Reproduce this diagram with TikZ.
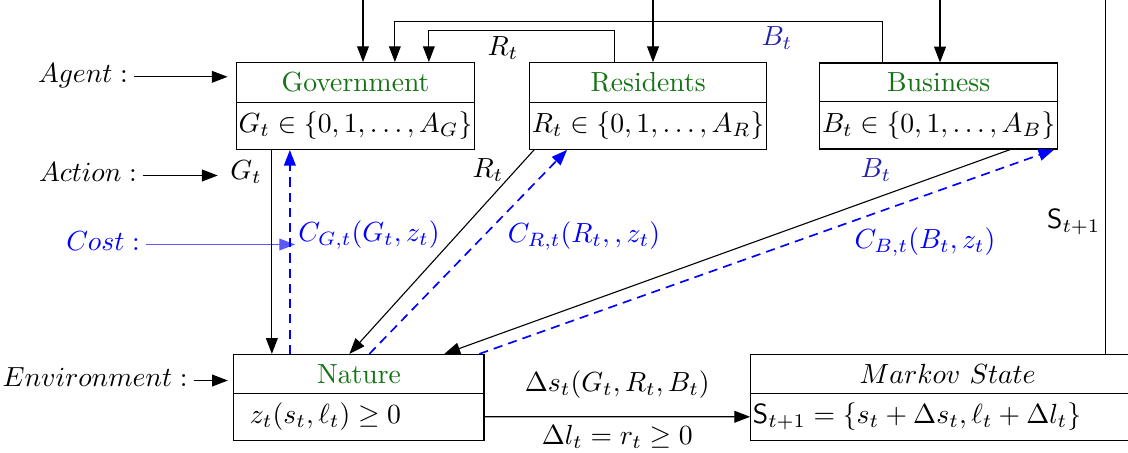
\documentclass[tikz,border=0pt]{standalone}
\usepackage{amsmath,amssymb}
\usepackage{xcolor}
\usetikzlibrary{arrows.meta, positioning, calc, shapes.multipart}
\definecolor{titlegreen}{RGB}{20,115,20}
\definecolor{darkblue}{RGB}{35,35,170}
\tikzset{
  agentbox/.style={draw, rectangle split, rectangle split parts=2, inner xsep=0.8pt, minimum width=85.7pt},
  envbox/.style={agentbox, rectangle split part align={center,left}},
  arrow/.style={-{Triangle[length=2mm, width=1.5mm]}},
  costflow/.style={-{Triangle[length=2mm, width=1.5mm]}, blue, dash pattern=on 3.3pt off 2.2pt, semithick},
  costlabel/.style={text=blue},
  sidelabel/.style={inner sep=2pt}
}
\begin{document}
\begin{tikzpicture}[x=0.3615pt, y=-0.3615pt]
    \path[use as bounding box, clip] (0,0) rectangle (1128,452);

    % agents
    \node[agentbox] (gov) at (355.5,106) {\textcolor{titlegreen}{Government}\nodepart{two}$G_t \in \{0,1,\ldots,A_G\}$};
    \node[agentbox, right=19.5pt of gov] (res) {\textcolor{titlegreen}{Residents}\nodepart{two}$R_t \in \{0,1,\ldots,A_R\}$};
    \node[agentbox, right=18.8pt of res] (bus) {\textcolor{titlegreen}{Business}\nodepart{two}$B_t \in \{0,1,\ldots,A_B\}$};

    % environment and state
    \node[envbox, minimum width=90.4pt, below=73.7pt of gov.south west, anchor=north west, xshift=-0.9pt] (nature) {\textcolor{titlegreen}{Nature}\nodepart{two}\hspace{5pt}$z_t(s_t,\ell_t) \geq 0$};
    \node[envbox, minimum width=142.4pt, right=96pt of nature] (markov) {$Markov\ State$\nodepart{two}$\mathsf{S}_{t+1} = \{s_t + \Delta s_t, \ell_t + \Delta l_t\}$};

    % row labels
    \node[sidelabel] (agentlbl) at (83,76) {$Agent:$};
    \node[sidelabel] (actlbl) at (88,172) {$Action:$};
    \node[sidelabel, text=blue] (costlbl) at (103,241) {$Cost:$};
    \node[sidelabel] (envlbl) at (95,377) {$Environment:$};
    \draw[arrow, shorten >=3pt] (agentlbl.mid east) -- (agentlbl.mid east -| gov.west);
    \draw[arrow, shorten >=2pt] (envlbl.mid east) -- (envlbl.mid east -| nature.west);

    % action and cost labels
    \node (gtlbl) at (246,172) {$G_t$};
    \node (rtlbl) at (488,170) {$R_t$};
    \node[text=darkblue] (btlbl) at (876,170) {$B_t$};
    \node[costlabel, inner sep=1pt] (cglbl) at (369,235) {$C_{G,t}(G_t,z_t)$};
    \node[costlabel] (crlbl) at (584,236) {$C_{R,t}(R_t,,z_t)$};
    \node[costlabel] (cblbl) at (925,242) {$C_{B,t}(B_t,z_t)$};
    \draw[arrow, shorten >=1pt] (actlbl.mid east) -- (actlbl.mid east -| gtlbl.west);
    \draw[arrow, blue!65] (costlbl.mid east) -- (costlbl.mid east -| cglbl.west);

    % actions down to nature, costs back up
    \coordinate (gA) at ($(gov.south west)+(36,0)$);
    \coordinate (gC) at ($(gov.south west)+(54,0)$);
    \draw[arrow] (gA) -- (gA |- nature.north);
    \draw[costflow] (gC |- nature.north) -- (gC);
    \draw[arrow] ($(res.south west)+(5,0)$) -- ($(nature.north west)+(116,0)$);
    \draw[costflow] ($(nature.north west)+(136,0)$) -- ($(res.south west)+(38,0)$);
    \draw[arrow] ($(bus.south west)+(191,0)$) -- ($(nature.north west)+(211,0)$);
    \draw[costflow] ($(nature.north west)+(246,0)$) -- ($(bus.south east)+(-4,0)$);

    % observed actions fed to government
    \draw[arrow] ($(res.north west)+(85,0)$) -- ++(0,-32) -| ($(gov.north west)+(193,0)$);
    \draw[arrow] ($(bus.north west)+(63,0)$) -- ++(0,-41) -| ($(gov.north west)+(159,0)$);
    \node (rtop) at (503,48) {$R_t$};
    \node[text=darkblue] (btop) at (777,38) {$B_t$};

    % transition
    \draw[arrow] (nature.two east) -- (markov.two west)
        node[midway, above=3pt] (dslbl) {$\Delta s_t(G_t,R_t,B_t)$}
        node[midway, below=-0.5pt] (dllbl) {$\Delta l_t = r_t \geq 0$};

    % next state back to the agents
    \coordinate (mkv) at ($(markov.north west)+(355,0)$);
    \coordinate (topG) at (363,-12);
    \coordinate (topR) at (653,-12);
    \coordinate (topB) at (940,-12);
    \draw (mkv) |- (topG);
    \draw[arrow] (topG) -- (topG |- gov.north);
    \draw[arrow] (topR) -- (topR |- res.north);
    \draw[arrow] (topB) -- (topB |- bus.north);
    \node[left] (slbl) at (1110,222) {$\mathsf{S}_{t+1}$};
\end{tikzpicture}
\end{document}
